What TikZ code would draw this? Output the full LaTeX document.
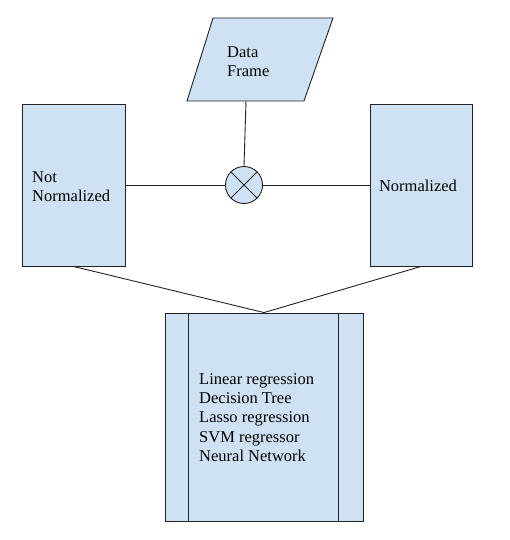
\documentclass[tikz,border=0pt]{standalone}
\usepackage{fontspec}
\setmainfont{Liberation Serif}
\definecolor{boxfill}{HTML}{CFE2F3}
\definecolor{boxline}{HTML}{222222}
\begin{document}
\begin{tikzpicture}[x=1pt,y=-1pt,
  shapebox/.style={draw=boxline, fill=boxfill, line width=0.9pt, inner sep=0pt},
  conn/.style={draw=boxline, line width=0.9pt},
  lbl/.style={font=\fontsize{16.5}{19.3}\selectfont, inner sep=0pt, align=left}]
\useasboundingbox (0,0) rectangle (510,540);
% Data Frame parallelogram
\draw[shapebox] (187,101) -- (304,101) -- (333,18) -- (213,18) -- cycle;
\coordinate (dfb) at (246,101);
\node[lbl, anchor=west] (df) at (227,62) {Data\\Frame};
% summing circle
\node[shapebox, circle, minimum size=37pt] (x) at (244,185) {};
\draw[conn] (x.45) -- (x.225) (x.135) -- (x.315);
% side boxes
\node[shapebox, minimum width=103pt, minimum height=162pt] (lb) at (73.5,185) {};
\node[lbl, anchor=west] (lbt) at (32,186.5) {Not\\Normalized};
\node[shapebox, minimum width=102pt, minimum height=162pt] (rb) at (421,185) {};
\node[lbl] (rbt) at (418,186) {Normalized};
% bottom box
\node[shapebox, minimum width=198pt, minimum height=208pt] (mb) at (264,417) {};
\draw[conn] ([xshift=24pt]mb.north west) -- ([xshift=24pt]mb.south west);
\draw[conn] ([xshift=-25pt]mb.north east) -- ([xshift=-25pt]mb.south east);
\node[lbl, anchor=west] (mbt) at (199,417.5) {Linear regression\\Decision Tree\\Lasso regression\\SVM regressor\\Neural Network};
% connectors
\draw[conn] (dfb) -- (x.north);
\draw[conn] (lb.east) -- (x.west);
\draw[conn] (x.east) -- (rb.west);
\draw[conn] (lb.south) -- (mb.north);
\draw[conn] (rb.south) -- (mb.north);
\end{tikzpicture}
\end{document}
